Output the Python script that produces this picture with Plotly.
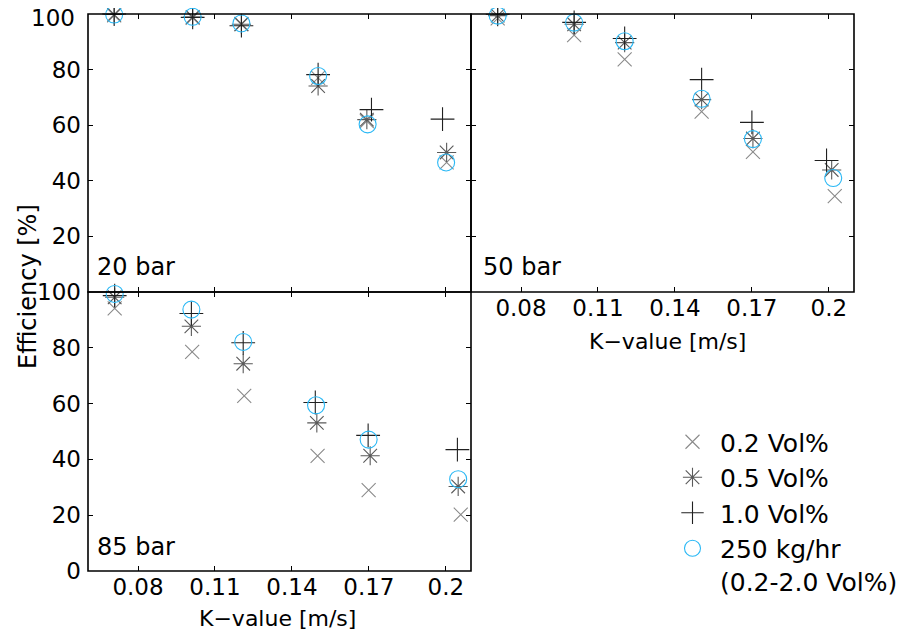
import plotly.graph_objects as go

# ---------------- data ----------------
series_names = ["0.2 Vol%", "0.5 Vol%", "1.0 Vol%", "250 kg/hr<br>(0.2-2.0 Vol%)"]
panel_labels = ["20 bar", "50 bar", "85 bar"]

x_ticks = [0.08, 0.11, 0.14, 0.17, 0.2]
x_tick_text = ["0.08", "0.11", "0.14", "0.17", "0.2"]
y_ticks = [0, 20, 40, 60, 80, 100]
y_tick_text = ["0", "20", "40", "60", "80", "100"]
y_tick_text_top = ["", "20", "40", "60", "80", ""]
top_label = "100"

# 20 bar
k20_v02 = [0.0707, 0.1013, 0.1203, 0.1502, 0.1692, 0.2003]
e20_v02 = [99.5, 98.6, 96.4, 77.0, 61.5, 46.6]
k20_v05 = [0.0707, 0.1013, 0.1203, 0.1502, 0.1692, 0.2003]
e20_v05 = [99.8, 98.9, 96.3, 74.1, 62.0, 50.2]
k20_v10 = [0.0707, 0.1013, 0.1203, 0.1502, 0.1710, 0.1987]
e20_v10 = [100.0, 98.8, 95.8, 78.2, 65.6, 62.2]
k20_250 = [0.0707, 0.1013, 0.1203, 0.1502, 0.1695, 0.2001]
e20_250 = [99.8, 99.0, 96.6, 77.7, 60.3, 46.6]

# 50 bar
k50_v02 = [0.0709, 0.1007, 0.1204, 0.1504, 0.1704, 0.2023]
e50_v02 = [98.4, 92.4, 83.7, 64.9, 50.4, 34.5]
k50_v05 = [0.0709, 0.1007, 0.1204, 0.1504, 0.1704, 0.2011]
e50_v05 = [99.4, 96.3, 89.7, 69.2, 55.2, 43.9]
k50_v10 = [0.0709, 0.1007, 0.1204, 0.1504, 0.1700, 0.1991]
e50_v10 = [99.9, 97.0, 91.2, 76.4, 61.0, 47.3]
k50_250 = [0.0709, 0.1007, 0.1204, 0.1504, 0.1704, 0.2017]
e50_250 = [99.4, 96.9, 90.2, 69.5, 55.0, 41.0]

# 85 bar
k85_v02 = [0.0709, 0.1011, 0.1214, 0.1500, 0.1699, 0.2058]
e85_v02 = [94.1, 78.5, 62.8, 41.3, 29.0, 20.2]
k85_v05 = [0.0709, 0.1008, 0.1210, 0.1497, 0.1705, 0.2048]
e85_v05 = [98.1, 87.7, 74.3, 53.1, 41.3, 30.3]
k85_v10 = [0.0709, 0.1008, 0.1210, 0.1491, 0.1697, 0.2045]
e85_v10 = [98.7, 92.3, 81.8, 60.4, 48.6, 43.5]
k85_250 = [0.0709, 0.1008, 0.1210, 0.1494, 0.1699, 0.2048]
e85_250 = [99.3, 93.7, 82.1, 59.4, 47.1, 32.9]

panels = [
    [(k20_v02, e20_v02), (k20_v05, e20_v05), (k20_v10, e20_v10), (k20_250, e20_250)],
    [(k50_v02, e50_v02), (k50_v05, e50_v05), (k50_v10, e50_v10), (k50_250, e50_250)],
    [(k85_v02, e85_v02), (k85_v05, e85_v05), (k85_v10, e85_v10), (k85_250, e85_250)],
]

# ---------------- style ----------------
W, H = 909, 635
OX, OY = 8, 8  # page body margin offset
FONT = "DejaVu Sans, Verdana, sans-serif"
symbols = ["x-thin-open", "asterisk-open", "cross-thin-open", "circle-open"]
colors = ["#8a8a8a", "#5a5a5a", "#202020", "#2ab8f5"]
sizes = [14, 16, 17, 17]


def fx(px):
    return (px - OX) / W


def fy(py):
    return 1 - (py - OY) / H


# pixel boxes (left, right, top, bottom)
boxes = [(88, 471, 14, 292), (471, 854, 14, 292), (88, 471, 292, 571)]
axis_ids = [("x", "y"), ("x2", "y2"), ("x3", "y3")]

fig = go.Figure()

for pi, (data, (xa, ya)) in enumerate(zip(panels, axis_ids)):
    for si, (xs, ys) in enumerate(data):
        fig.add_trace(go.Scatter(
            x=xs, y=ys, mode="markers", xaxis=xa, yaxis=ya,
            name=series_names[si], showlegend=(pi == 0),
            legendgroup=str(si), cliponaxis=False,
            marker=dict(symbol=symbols[si], size=sizes[si], color=colors[si],
                        line=dict(width=1.1, color=colors[si])),
        ))

layout = dict(
    width=W, height=H,
    margin=dict(l=0, r=0, t=0, b=0, autoexpand=False),
    paper_bgcolor="white", plot_bgcolor="white",
    font=dict(family=FONT, size=23, color="black"),
    legend=dict(x=fx(665), y=fy(419), xanchor="left", yanchor="top",
                font=dict(size=25, family=FONT), bgcolor="rgba(0,0,0,0)",
                tracegroupgap=0, valign="top", itemwidth=45),
)

shapes = []
for i, ((l, r, t, b), (xa, ya)) in enumerate(zip(boxes, axis_ids)):
    xkey = "xaxis" if xa == "x" else "xaxis" + xa[1:]
    ykey = "yaxis" if ya == "y" else "yaxis" + ya[1:]
    show_x = i in (1, 2)
    show_y = i in (0, 2)
    ytt = y_tick_text_top if i == 0 else y_tick_text
    layout[xkey] = dict(
        domain=[fx(l), fx(r)], anchor=ya, range=[0.0605, 0.2098],
        tickvals=x_ticks, ticktext=x_tick_text, showticklabels=show_x,
        ticks="inside", ticklen=5, tickcolor="black", tickwidth=1,
        showline=False, mirror="ticks", automargin=False,
        ticklabeloverflow="allow",
        showgrid=False, zeroline=False, tickfont=dict(size=23),
    )
    layout[ykey] = dict(
        domain=[fy(b), fy(t)], anchor=xa, range=[0, 100],
        tickvals=y_ticks, ticktext=ytt, showticklabels=show_y,
        ticks="inside", ticklen=5, tickcolor="black", tickwidth=1,
        showline=False, mirror="ticks", automargin=False,
        ticklabelstandoff=6, ticklabeloverflow="allow",
        showgrid=False, zeroline=False, tickfont=dict(size=23),
    )
    shapes.append(dict(type="rect", xref="paper", yref="paper",
                       x0=fx(l), x1=fx(r), y0=fy(b), y1=fy(t),
                       line=dict(color="black", width=1.6), fillcolor="rgba(0,0,0,0)",
                       layer="above"))

fig.update_layout(**layout)

annotations = []
label_pos = [(95, 267), (481, 267), (95, 547)]
for txt, (px, py) in zip(panel_labels, label_pos):
    annotations.append(dict(text=txt, x=fx(px), y=fy(py), xref="paper", yref="paper",
                            xanchor="left", yanchor="middle", showarrow=False,
                            font=dict(size=24)))
# top "100" label of the upper-left panel, nudged so it stays inside the page
annotations.append(dict(text=top_label, x=fx(77), y=fy(18), xref="paper", yref="paper",
                        xanchor="right", yanchor="middle", showarrow=False, font=dict(size=23)))
annotations.append(dict(text="K\u2212value [m/s]", x=fx(667), y=fy(341), xref="paper", yref="paper",
                        xanchor="center", yanchor="middle", showarrow=False, font=dict(size=22)))
annotations.append(dict(text="K\u2212value [m/s]", x=fx(277), y=fy(618), xref="paper", yref="paper",
                        xanchor="center", yanchor="middle", showarrow=False, font=dict(size=22)))
annotations.append(dict(text="Efficiency [%]", x=fx(28), y=fy(287), xref="paper", yref="paper",
                        xanchor="center", yanchor="middle", showarrow=False, textangle=-90,
                        font=dict(size=24)))
fig.update_layout(annotations=annotations, shapes=shapes)

fig.write_html("out.html")
